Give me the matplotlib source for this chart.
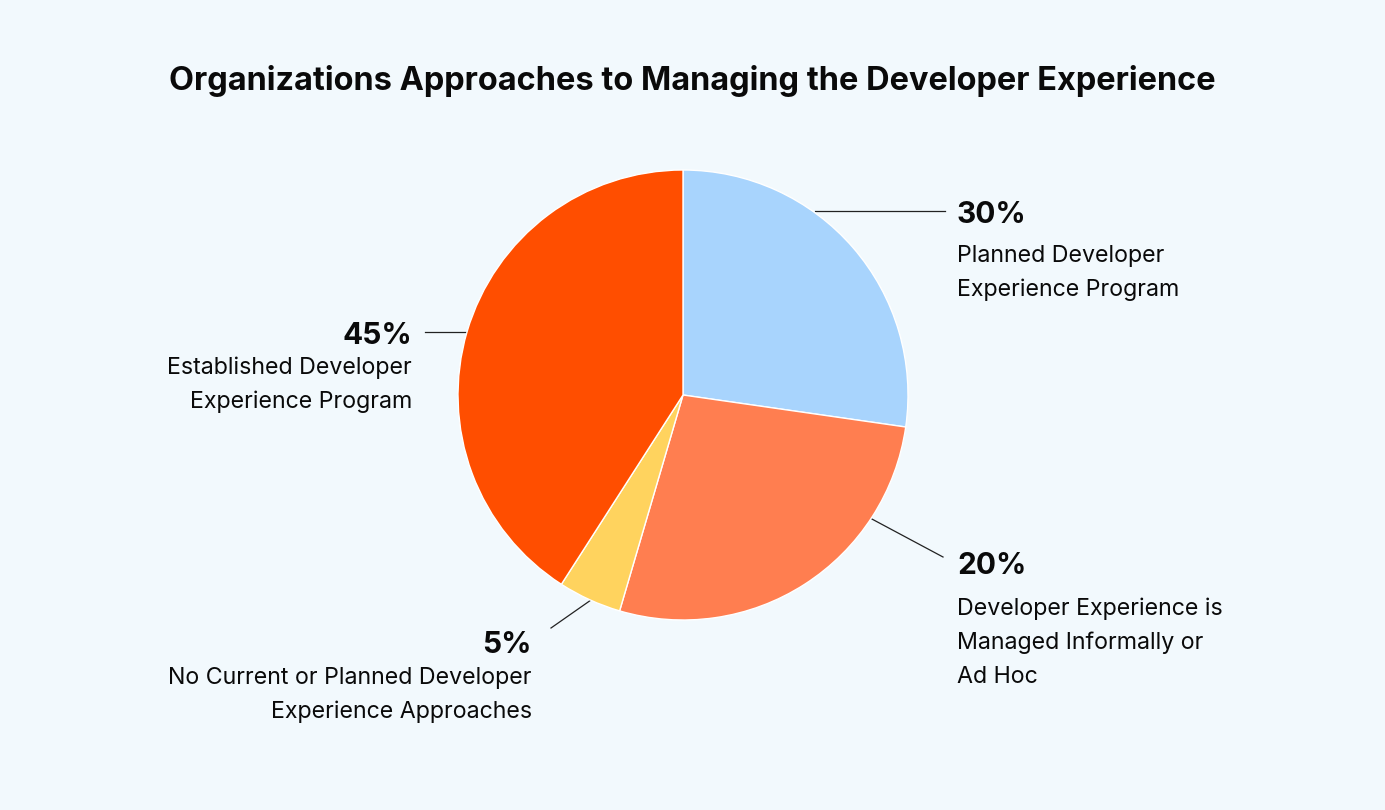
import matplotlib
matplotlib.use("Agg")
import matplotlib.pyplot as plt

# ---- data ----
categories = [
    "Planned Developer\nExperience Program",
    "Developer Experience is\nManaged Informally or\nAd Hoc",
    "No Current or Planned Developer\nExperience Approaches",
    "Established Developer\nExperience Program",
]
pct_labels = ["30%", "20%", "5%", "45%"]
# slice sizes as drawn in the reference picture
slice_values = [30, 30, 5, 45]
colors = ["#A8D4FD", "#FF7E50", "#FFD35E", "#FF4E00"]

title = "Organizations Approaches to Managing the Developer Experience"

W, H = 1385, 810
BG = "#F2F9FD"
TXT = "#0A0A0A"

fig = plt.figure(figsize=(W / 100, H / 100), dpi=100, facecolor=BG)
ax = fig.add_axes([0, 0, 1, 1])
ax.set_xlim(0, W)
ax.set_ylim(0, H)
ax.set_aspect("equal")
ax.axis("off")
ax.set_facecolor(BG)

def Y(y):
    return H - y

cx, cy, r = 683, 395, 225

# leader lines (drawn beneath pie)
leaders = [((815, 211), (945, 211)),
           ((870, 518), (943, 557)),
           ((551, 628), (591, 600)),
           ((425, 332), (472, 332))]
for (x0, y0), (x1, y1) in leaders:
    ax.plot([x0, x1], [Y(y0), Y(y1)], color="#222222", lw=0.9, zorder=1)

ax.pie(slice_values, colors=colors, startangle=90, counterclock=False,
       center=(cx, Y(cy)), radius=r, frame=True,
       wedgeprops=dict(edgecolor="white", linewidth=1.0, zorder=2))
ax.set_xlim(0, W)
ax.set_ylim(0, H)
ax.axis("off")

FONT = "Inter"
PCT_FS = 21.5
BODY_FS = 16.7
LINE = 34

# label layout: (x, pct baseline, first text baseline, ha)
layout = [
    (957, 223, 262, "left"),
    (957, 574, 615, "left"),
    (532, 653, 684, "right"),
    (412, 344, 374, "right"),
]
for (x, yp, yt, ha), pct, cat in zip(layout, pct_labels, categories):
    ax.text(x, Y(yp), pct, ha=ha, va="baseline", fontsize=PCT_FS,
            fontweight="bold", family=FONT, color=TXT)
    for i, line in enumerate(cat.split("\n")):
        ax.text(x, Y(yt + i * LINE), line, ha=ha, va="baseline",
                fontsize=BODY_FS, family=FONT, color=TXT)

ax.text(692, Y(90), title, ha="center", va="baseline", fontsize=23.4,
        fontweight="bold", family=FONT, color=TXT)

fig.savefig("out.png", dpi=100, facecolor=BG)
